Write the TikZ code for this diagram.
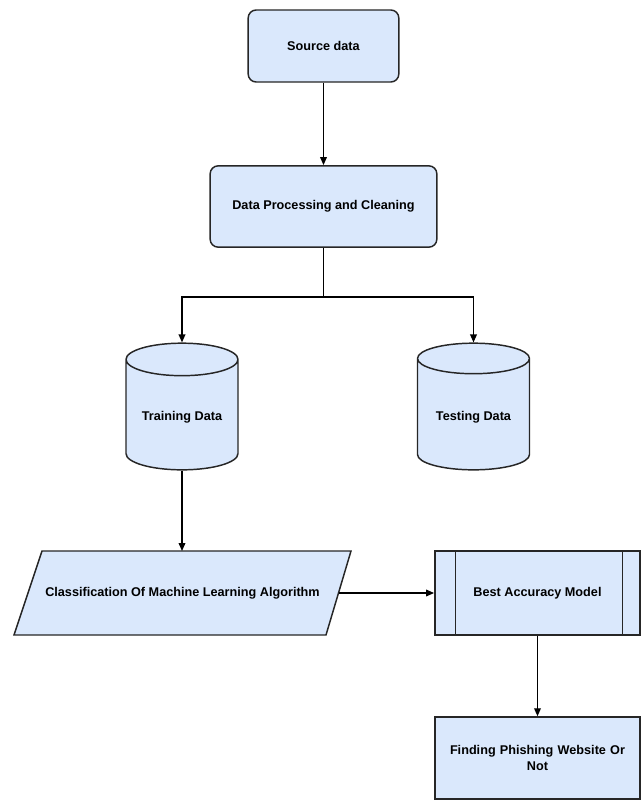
\documentclass[tikz,border=0pt]{standalone}
\usepackage{fontspec}
\setmainfont{Liberation Sans}
\usetikzlibrary{shapes.geometric,arrows.meta}
\definecolor{boxblue}{RGB}{218,232,252}
\tikzset{
  base/.style={draw=black!85,fill=boxblue,line width=1.1pt,align=center,inner sep=2pt,
    font=\bfseries\fontsize{9.5}{11.5}\selectfont},
  rbox/.style={base,rectangle,rounded corners=6pt},
  pbox/.style={base,rectangle},
  dbase/.style={base,cylinder,shape border rotate=90,aspect=0.38,anchor=shape center},
  txt/.style={align=center,inner sep=2pt,font=\bfseries\fontsize{9.5}{11.5}\selectfont},
  edge/.style={line width=1.1pt,draw=black!85},
  conn/.style={line width=1pt,-{Triangle[length=6pt,width=5pt]}},
}
\begin{document}
\begin{tikzpicture}[x=0.75pt,y=-0.75pt]
  % page = 642 x 801 px, 1px = 0.75pt
  \useasboundingbox (0,0) rectangle (642,801);
  % top boxes
  \node[rbox,minimum width=113pt,minimum height=54pt] (src) at (323.5,46){Source data};
  \node[rbox,minimum width=170pt,minimum height=61pt] (dp) at (323.5,206.5){Data Processing and Cleaning};
  % data stores
  \node[dbase,minimum width=84pt,minimum height=95pt] (train) at (182,406.5){Training Data};
  \node[dbase,minimum width=84pt,minimum height=95pt] (test) at (473.5,406.5){Testing Data};
  % classification (slanted) + model
  \filldraw[edge,fill=boxblue](42,551)--(351,551)--(326,635)--(14,635)--cycle;
  \node[txt] (clf) at (182.5,593){Classification Of Machine Learning Algorithm};
  \coordinate (clfR) at (338.5,593);
  \node[pbox,minimum width=154pt,minimum height=63pt] (bam) at (537.5,593){Best Accuracy Model};
  \draw[edge]([xshift=16pt]bam.north west)--([xshift=16pt]bam.south west);
  \draw[edge]([xshift=-14pt]bam.north east)--([xshift=-14pt]bam.south east);
  \node[pbox,minimum width=154pt,minimum height=61.5pt,text width=140pt] (find) at (537.5,758){Finding Phishing Website Or\\Not};
  % connectors
  \coordinate (split) at (323.5,297);
  \coordinate (clfT) at (182,551);
  \draw[conn](src)--(dp);
  \draw[line width=1pt](dp.south)--(split);
  \draw[conn](split)-|(train.top);
  \draw[conn](split)-|(test.top);
  \draw[conn](train.bottom)--(clfT);
  \draw[conn](clfR)--(bam.west);
  \draw[conn](bam)--(find);
\end{tikzpicture}
\end{document}
